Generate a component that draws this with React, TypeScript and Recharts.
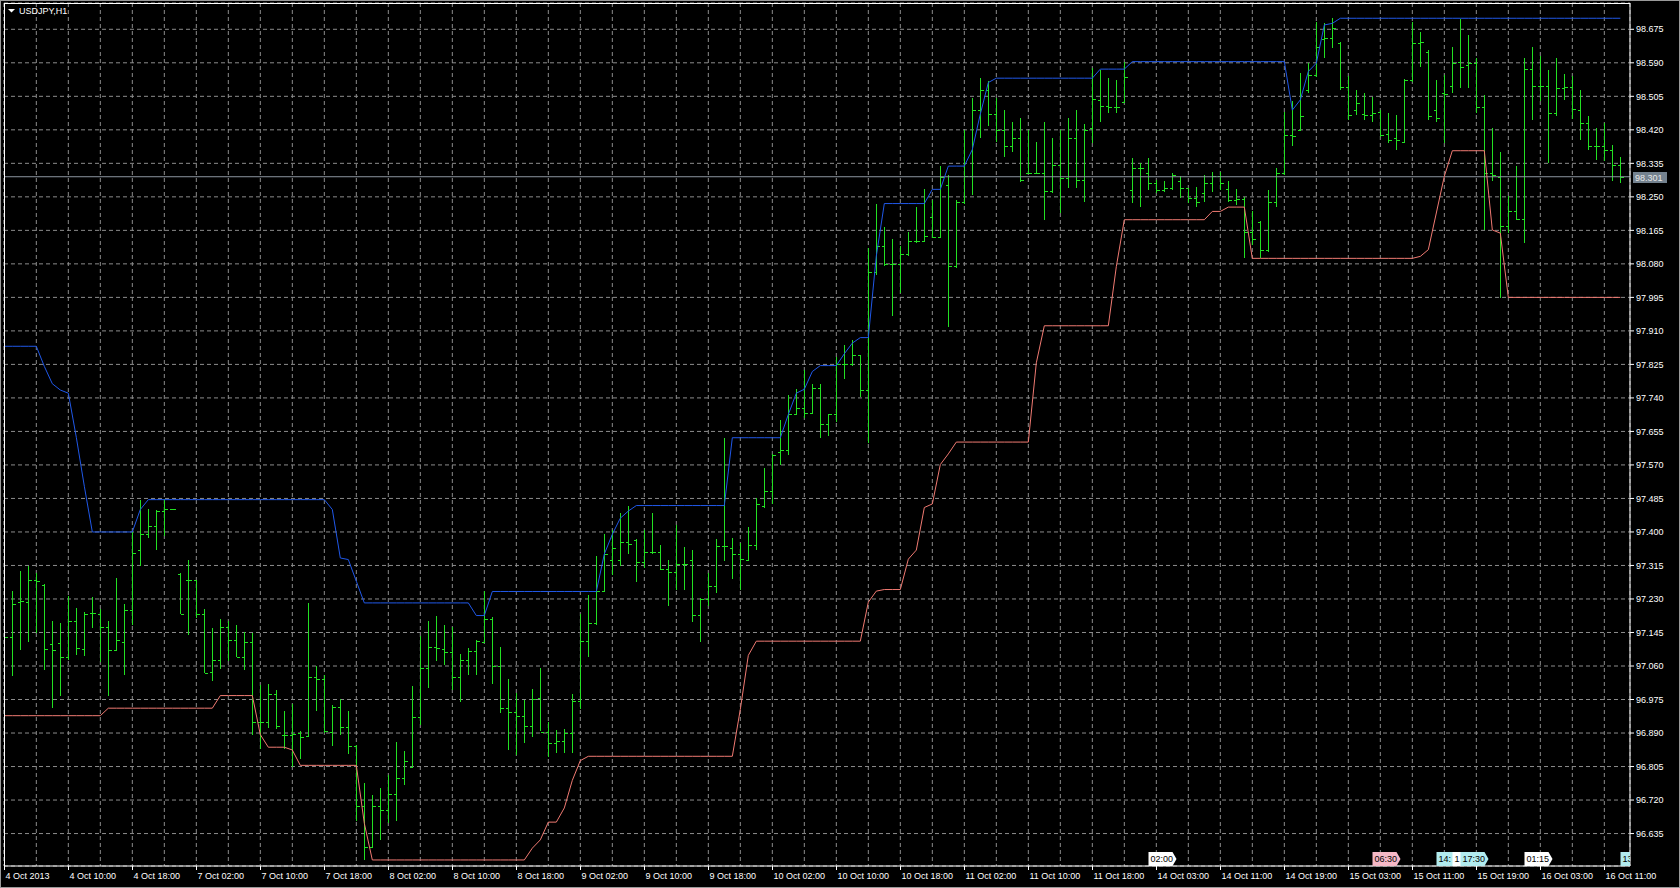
import React from 'react'
import {
  ComposedChart,
  Bar,
  Line,
  XAxis,
  YAxis,
  CartesianGrid,
  ReferenceLine,
  ReferenceDot,
} from 'recharts'

// USDJPY H1, 4 Oct 2013 02:00 .. 16 Oct 2013 13:00, one entry per bar
const timeLabels = [
  '4 Oct 2013', '4 Oct 10:00', '4 Oct 18:00', '7 Oct 02:00', '7 Oct 10:00', '7 Oct 18:00',
  '8 Oct 02:00', '8 Oct 10:00', '8 Oct 18:00', '9 Oct 02:00', '9 Oct 10:00', '9 Oct 18:00',
  '10 Oct 02:00', '10 Oct 10:00', '10 Oct 18:00', '11 Oct 02:00', '11 Oct 10:00', '11 Oct 18:00',
  '14 Oct 03:00', '14 Oct 11:00', '14 Oct 19:00', '15 Oct 03:00', '15 Oct 11:00', '15 Oct 19:00',
  '16 Oct 03:00', '16 Oct 11:00',
]

const priceTicks = [
  96.635, 96.72, 96.805, 96.89, 96.975, 97.06, 97.145, 97.23, 97.315, 97.4, 97.485, 97.57,
  97.655, 97.74, 97.825, 97.91, 97.995, 98.08, 98.165, 98.25, 98.335, 98.42, 98.505, 98.59, 98.675,
]

const opens = [
  97.150, 97.133, 97.222, 97.222, 97.279, 97.265, 97.117, 97.118, 97.083, 97.173,
  97.103, 97.194, 97.193, 97.159, 97.101, 97.122, 97.203, 97.355, 97.395, 97.414,
  97.452, 97.458, 97.293, 97.279, 97.279, 97.193, 97.046, 97.074, 97.159, 97.127,
  97.083, 97.122, 96.919, 96.919, 96.990, 96.886, 96.886, 96.890, 96.883, 97.032,
  97.028, 96.892, 96.956, 96.905, 96.856, 96.704, 96.600, 96.704, 96.695, 96.736,
  96.777, 96.805, 96.930, 97.056, 97.107, 97.103, 97.095, 97.032, 97.076, 97.099,
  97.122, 97.180, 97.059, 96.953, 96.943, 96.932, 96.907, 96.979, 96.892, 96.864,
  96.870, 96.890, 96.970, 97.123, 97.168, 97.250, 97.330, 97.330, 97.375, 97.380,
  97.325, 97.350, 97.350, 97.306, 97.298, 97.318, 97.330, 97.190, 97.230, 97.262,
  97.365, 97.360, 97.345, 97.330, 97.368, 97.467, 97.503, 97.603, 97.607, 97.698,
  97.715, 97.703, 97.766, 97.673, 97.700, 97.825, 97.827, 97.848, 97.761, 98.060,
  98.126, 98.080, 98.080, 98.104, 98.138, 98.138, 98.200, 98.149, 98.280, 98.074,
  98.237, 98.303, 98.470, 98.520, 98.460, 98.420, 98.380, 98.400, 98.310, 98.310,
  98.310, 98.264, 98.330, 98.298, 98.400, 98.293, 98.424, 98.495, 98.480, 98.479,
  98.490, 98.268, 98.323, 98.310, 98.285, 98.268, 98.272, 98.290, 98.272, 98.247,
  98.260, 98.285, 98.302, 98.270, 98.242, 98.245, 98.160, 98.185, 98.116, 98.236,
  98.310, 98.407, 98.420, 98.520, 98.560, 98.650, 98.652, 98.640, 98.528, 98.470,
  98.460, 98.458, 98.466, 98.410, 98.400, 98.390, 98.547, 98.640, 98.618, 98.470,
  98.513, 98.530, 98.593, 98.585, 98.589, 98.479, 98.310, 98.300, 98.175, 98.215,
  98.193, 98.574, 98.531, 98.531, 98.462, 98.525, 98.528, 98.470, 98.437, 98.378,
  98.378, 98.369, 98.330,
]

const highs = [
  97.180, 97.251, 97.302, 97.313, 97.296, 97.269, 97.173, 97.170, 97.237, 97.206,
  97.197, 97.235, 97.205, 97.173, 97.283, 97.217, 97.402, 97.482, 97.457, 97.455,
  97.484, 97.459, 97.296, 97.330, 97.279, 97.205, 97.156, 97.178, 97.175, 97.165,
  97.145, 97.144, 97.012, 97.015, 96.998, 96.945, 96.963, 96.894, 97.220, 97.059,
  97.036, 96.960, 96.977, 96.947, 96.860, 96.763, 96.733, 96.750, 96.784, 96.867,
  96.845, 97.010, 97.135, 97.175, 97.186, 97.165, 97.159, 97.091, 97.106, 97.127,
  97.251, 97.184, 97.108, 97.027, 96.991, 96.974, 97.001, 97.056, 96.917, 96.897,
  96.900, 96.990, 97.191, 97.241, 97.340, 97.394, 97.404, 97.449, 97.467, 97.381,
  97.404, 97.449, 97.367, 97.328, 97.417, 97.363, 97.354, 97.232, 97.295, 97.381,
  97.639, 97.385, 97.372, 97.412, 97.485, 97.562, 97.598, 97.685, 97.748, 97.762,
  97.811, 97.775, 97.775, 97.698, 97.845, 97.875, 97.888, 97.848, 98.119, 98.233,
  98.174, 98.142, 98.126, 98.162, 98.224, 98.269, 98.243, 98.328, 98.305, 98.242,
  98.420, 98.500, 98.551, 98.545, 98.500, 98.470, 98.440, 98.450, 98.420, 98.390,
  98.440, 98.400, 98.420, 98.450, 98.470, 98.435, 98.576, 98.572, 98.551, 98.547,
  98.593, 98.348, 98.335, 98.348, 98.293, 98.289, 98.310, 98.302, 98.272, 98.276,
  98.306, 98.312, 98.314, 98.289, 98.270, 98.249, 98.213, 98.190, 98.268, 98.323,
  98.466, 98.492, 98.563, 98.589, 98.694, 98.690, 98.703, 98.644, 98.557, 98.521,
  98.513, 98.503, 98.470, 98.462, 98.458, 98.549, 98.694, 98.669, 98.623, 98.547,
  98.559, 98.631, 98.700, 98.661, 98.601, 98.509, 98.424, 98.365, 98.251, 98.327,
  98.601, 98.631, 98.606, 98.572, 98.601, 98.562, 98.557, 98.521, 98.454, 98.424,
  98.437, 98.382, 98.352,
]

const lows = [
  97.120, 97.034, 97.101, 97.122, 97.144, 97.051, 96.953, 96.985, 97.076, 97.089,
  97.086, 97.156, 97.071, 96.985, 97.099, 97.038, 97.163, 97.314, 97.385, 97.353,
  97.389, 97.456, 97.193, 97.138, 97.182, 97.042, 97.021, 97.053, 97.072, 97.083,
  97.049, 96.884, 96.849, 96.904, 96.901, 96.849, 96.805, 96.824, 96.879, 96.947,
  96.890, 96.856, 96.886, 96.837, 96.667, 96.567, 96.598, 96.619, 96.661, 96.666,
  96.757, 96.801, 96.911, 97.004, 97.072, 97.063, 96.999, 96.968, 97.038, 97.038,
  97.118, 97.015, 96.941, 96.847, 96.835, 96.864, 96.881, 96.894, 96.829, 96.839,
  96.840, 96.840, 96.950, 97.082, 97.164, 97.250, 97.290, 97.313, 97.345, 97.272,
  97.308, 97.345, 97.304, 97.213, 97.254, 97.254, 97.172, 97.120, 97.213, 97.245,
  97.327, 97.281, 97.254, 97.328, 97.354, 97.462, 97.472, 97.571, 97.594, 97.698,
  97.689, 97.703, 97.639, 97.644, 97.680, 97.789, 97.820, 97.743, 97.626, 98.051,
  98.074, 97.947, 98.006, 98.100, 98.133, 98.135, 98.146, 98.146, 97.920, 98.070,
  98.233, 98.255, 98.400, 98.430, 98.390, 98.350, 98.365, 98.287, 98.310, 98.307,
  98.192, 98.260, 98.210, 98.273, 98.273, 98.238, 98.386, 98.441, 98.462, 98.462,
  98.487, 98.234, 98.225, 98.268, 98.259, 98.263, 98.268, 98.247, 98.234, 98.225,
  98.238, 98.263, 98.268, 98.236, 98.230, 98.094, 98.128, 98.094, 98.111, 98.225,
  98.306, 98.378, 98.416, 98.513, 98.555, 98.601, 98.627, 98.521, 98.445, 98.458,
  98.445, 98.441, 98.403, 98.386, 98.369, 98.390, 98.542, 98.580, 98.445, 98.441,
  98.386, 98.513, 98.525, 98.525, 98.462, 98.166, 98.289, 97.993, 98.158, 98.192,
  98.132, 98.445, 98.492, 98.335, 98.454, 98.496, 98.447, 98.394, 98.369, 98.344,
  98.340, 98.289, 98.286,
]

const closes = [
  97.133, 97.216, 97.224, 97.279, 97.276, 97.103, 97.101, 97.083, 97.173, 97.106,
  97.193, 97.194, 97.159, 97.101, 97.127, 97.203, 97.347, 97.395, 97.414, 97.452,
  97.457, 97.458, 97.193, 97.279, 97.193, 97.042, 97.074, 97.159, 97.127, 97.084,
  97.121, 96.919, 96.919, 96.990, 96.907, 96.884, 96.888, 96.879, 97.032, 97.028,
  96.894, 96.956, 96.905, 96.858, 96.704, 96.600, 96.704, 96.695, 96.736, 96.777,
  96.820, 96.930, 97.056, 97.107, 97.106, 97.095, 97.032, 97.076, 97.099, 97.124,
  97.180, 97.059, 96.953, 96.943, 96.932, 96.907, 96.976, 96.892, 96.864, 96.870,
  96.890, 96.970, 97.123, 97.168, 97.250, 97.345, 97.360, 97.375, 97.370, 97.325,
  97.350, 97.350, 97.306, 97.298, 97.318, 97.318, 97.190, 97.230, 97.262, 97.365,
  97.365, 97.345, 97.331, 97.368, 97.470, 97.503, 97.594, 97.607, 97.698, 97.715,
  97.703, 97.766, 97.673, 97.700, 97.825, 97.827, 97.848, 97.761, 98.060, 98.126,
  98.080, 98.080, 98.104, 98.138, 98.138, 98.150, 98.149, 98.300, 98.074, 98.237,
  98.303, 98.470, 98.520, 98.460, 98.420, 98.380, 98.400, 98.292, 98.310, 98.310,
  98.264, 98.330, 98.298, 98.400, 98.294, 98.420, 98.497, 98.480, 98.479, 98.478,
  98.555, 98.323, 98.323, 98.285, 98.268, 98.272, 98.306, 98.272, 98.247, 98.238,
  98.285, 98.302, 98.285, 98.242, 98.245, 98.160, 98.143, 98.116, 98.236, 98.310,
  98.407, 98.404, 98.454, 98.559, 98.630, 98.652, 98.678, 98.528, 98.458, 98.487,
  98.458, 98.462, 98.407, 98.394, 98.394, 98.547, 98.640, 98.642, 98.454, 98.449,
  98.511, 98.590, 98.580, 98.589, 98.479, 98.310, 98.306, 98.175, 98.215, 98.193,
  98.574, 98.531, 98.531, 98.462, 98.525, 98.528, 98.472, 98.437, 98.378, 98.378,
  98.369, 98.330, 98.301,
]

// channel lines (blue upper, red lower)
const upper = [
  97.871, 97.871, 97.871, 97.871, 97.871, 97.820, 97.776, 97.760, 97.752, 97.640,
  97.516, 97.400, 97.400, 97.400, 97.400, 97.400, 97.400, 97.457, 97.482, 97.482,
  97.482, 97.482, 97.482, 97.482, 97.482, 97.482, 97.482, 97.482, 97.482, 97.482,
  97.482, 97.482, 97.482, 97.482, 97.482, 97.482, 97.482, 97.482, 97.482, 97.482,
  97.482, 97.457, 97.334, 97.330, 97.275, 97.220, 97.220, 97.220, 97.220, 97.220,
  97.220, 97.220, 97.220, 97.220, 97.220, 97.220, 97.220, 97.220, 97.220, 97.188,
  97.188, 97.249, 97.249, 97.249, 97.249, 97.249, 97.249, 97.249, 97.249, 97.249,
  97.249, 97.249, 97.249, 97.249, 97.249, 97.344, 97.394, 97.435, 97.453, 97.467,
  97.467, 97.467, 97.467, 97.467, 97.467, 97.467, 97.467, 97.467, 97.467, 97.467,
  97.467, 97.639, 97.639, 97.639, 97.639, 97.639, 97.639, 97.639, 97.698, 97.752,
  97.762, 97.807, 97.822, 97.822, 97.822, 97.852, 97.879, 97.893, 97.893, 98.100,
  98.233, 98.233, 98.233, 98.233, 98.233, 98.233, 98.269, 98.269, 98.328, 98.328,
  98.328, 98.370, 98.460, 98.540, 98.551, 98.551, 98.551, 98.551, 98.551, 98.551,
  98.551, 98.551, 98.551, 98.551, 98.551, 98.551, 98.551, 98.574, 98.574, 98.574,
  98.574, 98.593, 98.593, 98.593, 98.593, 98.593, 98.593, 98.593, 98.593, 98.593,
  98.593, 98.593, 98.593, 98.593, 98.593, 98.593, 98.593, 98.593, 98.593, 98.593,
  98.593, 98.470, 98.496, 98.568, 98.589, 98.686, 98.690, 98.703, 98.703, 98.703,
  98.703, 98.703, 98.703, 98.703, 98.703, 98.703, 98.703, 98.703, 98.703, 98.703,
  98.703, 98.703, 98.703, 98.703, 98.703, 98.703, 98.703, 98.703, 98.703, 98.703,
  98.703, 98.703, 98.703, 98.703, 98.703, 98.703, 98.703, 98.703, 98.703, 98.703,
  98.703, 98.703, 98.703,
]

const lower = [
  96.934, 96.934, 96.934, 96.934, 96.934, 96.934, 96.934, 96.934, 96.934, 96.934,
  96.934, 96.934, 96.934, 96.953, 96.953, 96.953, 96.953, 96.953, 96.953, 96.953,
  96.953, 96.953, 96.953, 96.953, 96.953, 96.953, 96.953, 96.985, 96.985, 96.985,
  96.985, 96.985, 96.886, 96.854, 96.854, 96.854, 96.847, 96.808, 96.808, 96.808,
  96.808, 96.808, 96.808, 96.808, 96.808, 96.661, 96.568, 96.568, 96.568, 96.568,
  96.568, 96.568, 96.568, 96.568, 96.568, 96.568, 96.568, 96.568, 96.568, 96.568,
  96.568, 96.568, 96.568, 96.568, 96.568, 96.568, 96.598, 96.619, 96.664, 96.664,
  96.700, 96.770, 96.820, 96.831, 96.831, 96.831, 96.831, 96.831, 96.831, 96.831,
  96.831, 96.831, 96.831, 96.831, 96.831, 96.831, 96.831, 96.831, 96.831, 96.831,
  96.831, 96.831, 96.950, 97.087, 97.123, 97.123, 97.123, 97.123, 97.123, 97.123,
  97.123, 97.123, 97.123, 97.123, 97.123, 97.123, 97.123, 97.123, 97.222, 97.250,
  97.254, 97.254, 97.254, 97.331, 97.354, 97.462, 97.471, 97.571, 97.598, 97.628,
  97.628, 97.628, 97.628, 97.628, 97.628, 97.628, 97.628, 97.628, 97.628, 97.829,
  97.923, 97.923, 97.923, 97.923, 97.923, 97.923, 97.923, 97.923, 97.923, 98.073,
  98.192, 98.192, 98.192, 98.192, 98.192, 98.192, 98.192, 98.192, 98.192, 98.192,
  98.192, 98.213, 98.213, 98.224, 98.224, 98.224, 98.094, 98.094, 98.094, 98.094,
  98.094, 98.094, 98.094, 98.094, 98.094, 98.094, 98.094, 98.094, 98.094, 98.094,
  98.094, 98.094, 98.094, 98.094, 98.094, 98.094, 98.094, 98.099, 98.116, 98.209,
  98.302, 98.367, 98.367, 98.367, 98.367, 98.367, 98.166, 98.158, 97.995, 97.995,
  97.995, 97.995, 97.995, 97.995, 97.995, 97.995, 97.995, 97.995, 97.995, 97.995,
  97.995, 97.995, 97.995,
]

// calendar events along the time axis (bar index, visible text, importance)
const events = [
  { bar: 143, time: '02:00', level: 'low' },
  { bar: 171, time: '06:30', level: 'high' },
  { bar: 179, time: '14:', level: 'mid' },
  { bar: 181, time: '1', level: 'low' },
  { bar: 182, time: '17:30', level: 'mid' },
  { bar: 190, time: '01:15', level: 'low' },
  { bar: 202, time: '13', level: 'mid' },
]

const BAR_COLOR = '#22e022'
const UPPER_COLOR = '#2058e8'
const LOWER_COLOR = '#f07a72'
const GRID_COLOR = '#8c8c8c'
const FONT = "'Liberation Sans', Arial, sans-serif"
const EVENT_FILL: Record<string, string> = { low: '#ffffff', mid: '#b2ecef', high: '#f6b8c6' }

const CHART_W = 1680
const CHART_H = 888
const AXIS_W = 50
const PLOT_RIGHT = CHART_W - AXIS_W

const X_DOMAIN = [-0.04, 203.21]
const Y_DOMAIN = [96.5527, 98.7417]

const rows = opens.map((o, i) => ({
  i,
  o,
  h: highs[i],
  l: lows[i],
  c: closes[i],
  up: upper[i],
  dn: lower[i],
}))

const lastPrice = closes[closes.length - 1]

const gridTicks: number[] = []
for (let t = 0; t <= 200; t += 4) gridTicks.push(t)

function OhlcBar(props: any) {
  const { x, y, width, height, payload } = props
  if (x == null || y == null || !payload) return <g />
  const top = Math.min(y, y + height)
  const len = Math.abs(height)
  const cx = Math.round(x + width / 2) + 0.5
  const span = payload.h - payload.l
  const k = span > 0 ? len / span : 0
  const yo = Math.round(top + (payload.h - payload.o) * k) + 0.5
  const yc = Math.round(top + (payload.h - payload.c) * k) + 0.5
  return (
    <g stroke={BAR_COLOR} strokeWidth={1} shapeRendering="crispEdges">
      <line x1={cx} x2={cx} y1={top} y2={top + Math.max(len, 1)} />
      <line x1={cx - 3} x2={cx} y1={yo} y2={yo} />
      <line x1={cx} x2={cx + 3} y1={yc} y2={yc} />
    </g>
  )
}

function TimeTick(props: any) {
  const { x, y, payload } = props
  const idx = payload.value
  if (idx % 8 !== 0) return <g />
  const px = Math.round(x) + 0.5
  return (
    <g>
      <line x1={px} x2={px} y1={y} y2={y + 4} stroke="#ffffff" />
      <text x={px + 1} y={y + 13} fill="#ffffff" fontSize={9} fontFamily={FONT}>
        {timeLabels[idx / 8]}
      </text>
    </g>
  )
}

function EventTag(props: any) {
  const { cx, cy, time, fill, id } = props
  const x = Math.round(cx) + 0.5
  const y = Math.round(cy)
  const w = 24
  const h = 14
  const clipW = Math.max(0, Math.min(w + 5, PLOT_RIGHT - x))
  return (
    <g clipPath={`url(#${id})`}>
      <defs>
        <clipPath id={id}>
          <rect x={x - 1} y={y - h - 1} width={clipW + 1} height={h + 2} />
        </clipPath>
      </defs>
      <path
        d={`M${x},${y} L${x},${y - h} L${x + w},${y - h} L${x + w + 4},${y - h / 2} L${x + w},${y} Z`}
        fill={fill}
      />
      <text x={x + 2} y={y - 4} fontSize={9} fontFamily={FONT} fill="#000000">
        {time}
      </text>
    </g>
  )
}

function PriceTag(props: any) {
  const { cx, cy } = props
  const x = Math.round(cx) + 3
  const y = Math.round(cy)
  return (
    <g>
      <rect x={x} y={y - 5} width={34} height={11} fill="#74828f" />
      <text x={x + 2} y={y + 4} fontSize={9} fontFamily={FONT} fill="#e8e8e8">
        {lastPrice.toFixed(3)}
      </text>
    </g>
  )
}

export default function App() {
  return (
    <div
      style={{
        position: 'absolute',
        left: 0,
        top: 0,
        width: CHART_W,
        height: CHART_H,
        background: '#000000',
        overflow: 'hidden',
      }}
    >
      <ComposedChart
        width={CHART_W}
        height={CHART_H}
        data={rows}
        margin={{ top: 3, right: 0, bottom: 0, left: 4 }}
      >
        <CartesianGrid stroke={GRID_COLOR} strokeDasharray="4 3" />
        <XAxis
          dataKey="i"
          type="number"
          domain={X_DOMAIN}
          allowDataOverflow
          ticks={gridTicks}
          interval={0}
          height={22}
          tickSize={0}
          tickMargin={0}
          tickLine={false}
          axisLine={{ stroke: '#ffffff' }}
          tick={<TimeTick />}
        />
        <YAxis
          orientation="right"
          type="number"
          domain={Y_DOMAIN}
          allowDataOverflow
          ticks={priceTicks}
          interval={0}
          width={AXIS_W}
          tickSize={4}
          tickMargin={2}
          axisLine={{ stroke: '#ffffff' }}
          tickLine={{ stroke: '#ffffff' }}
          tick={{ fill: '#ffffff', fontSize: 9, fontFamily: FONT }}
          tickFormatter={(v: number) => v.toFixed(3)}
        />
        <ReferenceLine y={lastPrice} stroke="#8c96a0" strokeWidth={1} />
        <Line
          type="linear"
          dataKey="dn"
          stroke={LOWER_COLOR}
          strokeWidth={1}
          dot={false}
          activeDot={false}
          isAnimationActive={false}
        />
        <Line
          type="linear"
          dataKey="up"
          stroke={UPPER_COLOR}
          strokeWidth={1}
          dot={false}
          activeDot={false}
          isAnimationActive={false}
        />
        <Bar
          dataKey={(d: any) => [d.l, d.h]}
          barSize={1}
          shape={<OhlcBar />}
          isAnimationActive={false}
        />
        {events.map((ev) => (
          <ReferenceDot
            key={`ev-${ev.bar}`}
            x={ev.bar}
            y={Y_DOMAIN[0]}
            r={0}
            ifOverflow="visible"
            shape={(p: any) => (
              <EventTag
                cx={p.cx}
                cy={p.cy}
                time={ev.time}
                fill={EVENT_FILL[ev.level]}
                id={`evclip-${ev.bar}`}
              />
            )}
          />
        ))}
        <ReferenceDot
          x={X_DOMAIN[1]}
          y={lastPrice}
          r={0}
          ifOverflow="visible"
          shape={(p: any) => <PriceTag cx={p.cx} cy={p.cy} />}
        />
      </ComposedChart>

      {/* plot frame and window frame */}
      <div
        style={{
          position: 'absolute',
          left: 4,
          top: 3,
          width: 1626,
          height: 863,
          borderLeft: '1px solid #ffffff',
          borderTop: '1px solid #ffffff',
          boxSizing: 'border-box',
          pointerEvents: 'none',
        }}
      />
      <div
        style={{
          position: 'absolute',
          left: 0,
          top: 0,
          width: CHART_W,
          height: CHART_H,
          border: '1px solid #9a9a9a',
          boxSizing: 'border-box',
          pointerEvents: 'none',
        }}
      />
      <svg
        width={90}
        height={20}
        style={{ position: 'absolute', left: 0, top: 0, pointerEvents: 'none' }}
      >
        <polygon points="8,9 15,9 11.5,12.5" fill="#ffffff" />
        <text x={19} y={14} fontSize={9} fontFamily={FONT} fill="#ffffff">
          USDJPY,H1
        </text>
      </svg>
    </div>
  )
}
